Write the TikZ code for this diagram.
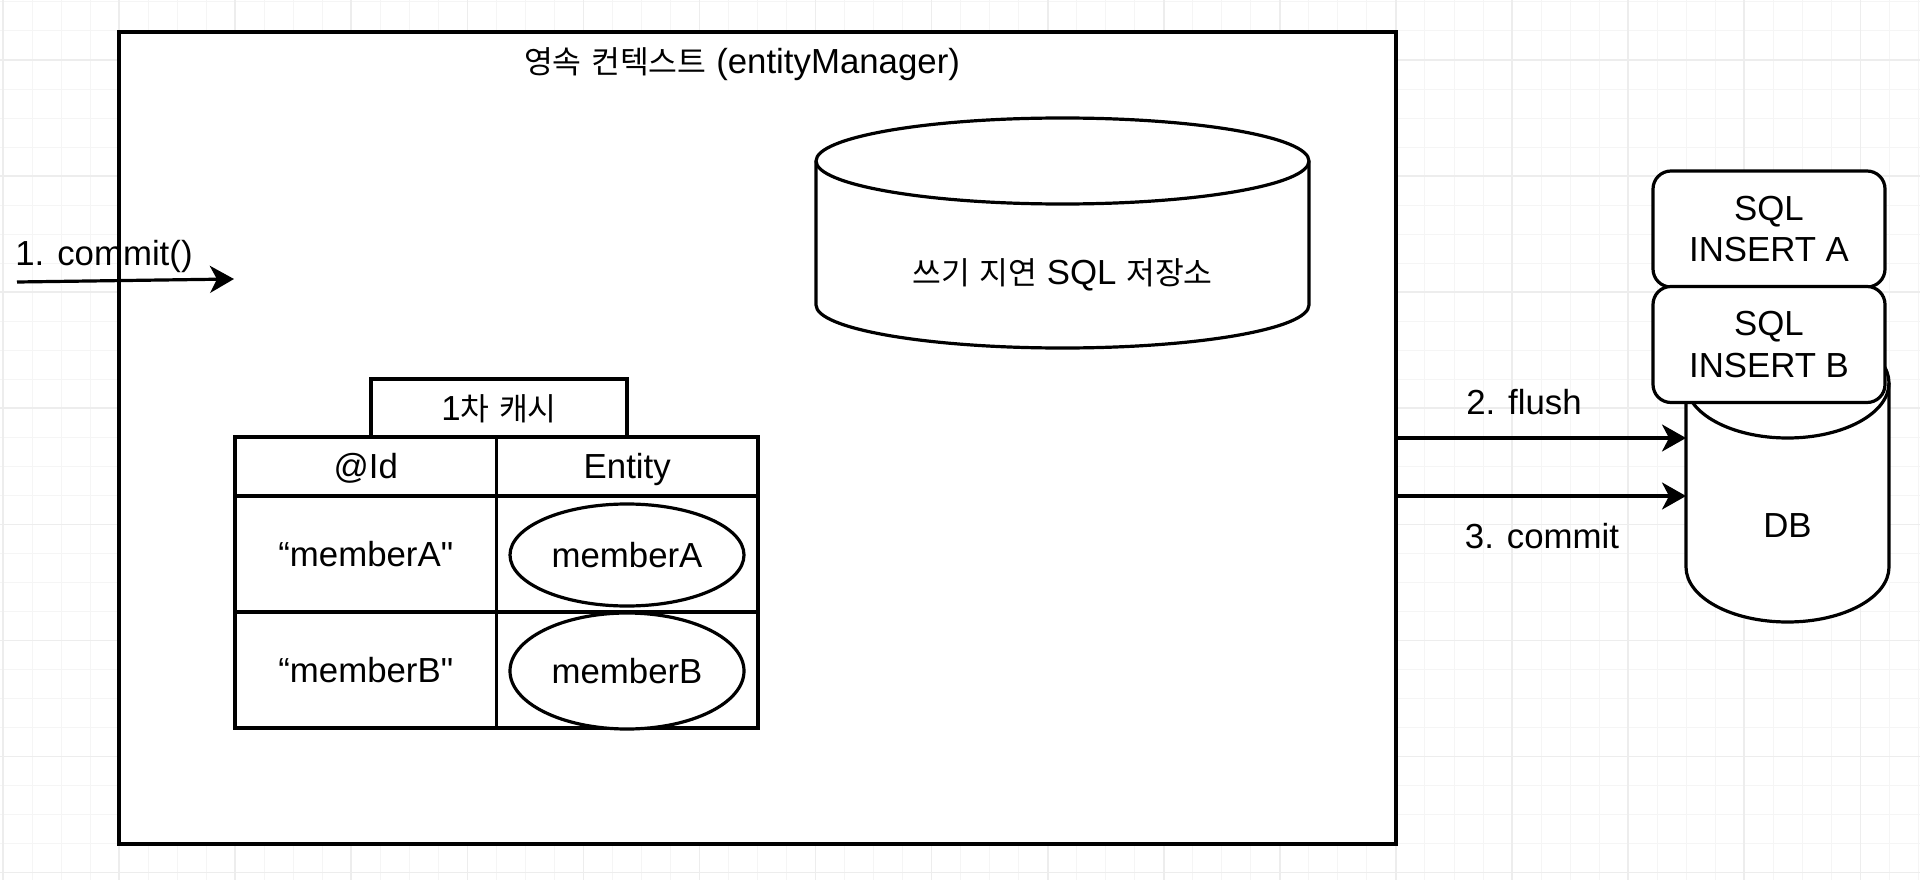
\documentclass[tikz,border=0pt]{standalone}
\usepackage{fontspec}
\newfontfamily\arial{Liberation Sans}
\newfontfamily\kor[Scale=0.9]{Noto Sans CJK KR}
\usetikzlibrary{arrows.meta, shapes.geometric}
\pgfdeclarelayer{gridlayer}
\pgfdeclarelayer{edgelayer}
\pgfdeclarelayer{nodelayer}
\pgfsetlayers{gridlayer,nodelayer,edgelayer,main}
\tikzstyle{minorgrid}=[draw=black!4, line width=1pt]
\tikzstyle{majorgrid}=[draw=black!7, line width=1.6pt]
\tikzstyle{tx}=[text height=24pt, text depth=0pt]
\tikzstyle{box}=[rectangle, draw=black, fill=white, line width=3.2pt, inner sep=0pt]
\tikzstyle{cell}=[box, tx, minimum width=261.5pt]
\tikzstyle{oval}=[ellipse, draw=black, fill=white, line width=3.2pt, inner sep=0pt, tx, minimum width=234pt]
\tikzstyle{sql}=[box, rounded corners=18pt, minimum width=232pt, minimum height=116pt, align=center]
\tikzstyle{can}=[draw=black, fill=white, line width=3.2pt]
\tikzstyle{txt}=[inner sep=0pt, tx]
\tikzstyle{flow}=[draw=black, line width=3.2pt, -{Stealth[length=24pt, width=27pt, inset=7pt]}]

\begin{document}
\begin{tikzpicture}[x=1pt, y=1pt, font=\arial\fontsize{34.8}{41.8}\selectfont]
				\useasboundingbox (0, 0) rectangle (1920, -880);
				\begin{pgfonlayer}{gridlayer}
					\draw [style=minorgrid, shift={(3, -1.96)}, step=29.02pt] (-60, 60) grid (1960, -920);
					\draw [style=majorgrid, shift={(3, -60)}, step=116.08pt] (-240, 240) grid (2040, -960);
				\end{pgfonlayer}
				\begin{pgfonlayer}{nodelayer}
					\node [style=box, minimum width=1277pt, minimum height=812pt] (0) at (757.5, -438) {};
					\node [style=txt] (1) at (742, -62) {{\kor 영속} {\kor 컨텍스트} (entityManager)};
					\draw [style=can] (816, -161) -- (816, -305) arc [start angle=180, end angle=360, x radius=246.5, y radius=43] -- (1309, -161) arc [start angle=0, end angle=180, x radius=246.5, y radius=43] -- cycle;
					\draw [style=can, fill=none] (816, -161) arc [start angle=180, end angle=360, x radius=246.5, y radius=43];
					\node [style=txt] (2) at (1062.5, -272) {{\kor 쓰기} {\kor 지연} SQL {\kor 저장소}};
					\node [style=box, tx, minimum width=256pt, minimum height=58pt] (3) at (499, -408) {1{\kor 차} {\kor 캐시}};
					\node [style=cell, minimum height=59pt] (4) at (365.75, -466.5) {@Id};
					\node [style=cell, minimum height=59pt] (5) at (627.25, -466.5) {Entity};
					\node [style=cell, minimum height=116pt] (6) at (365.75, -554) {“memberA"};
					\node [style=cell, minimum height=116pt] (7) at (627.25, -554) {};
					\node [style=cell, minimum height=116pt] (8) at (365.75, -670) {“memberB"};
					\node [style=cell, minimum height=116pt] (9) at (627.25, -670) {};
					\node [style=oval, minimum height=102pt] (10) at (627, -555) {memberA};
					\node [style=oval, minimum height=116pt] (11) at (627, -671) {memberB};
					\draw [style=can] (1686, -383) -- (1686, -567) arc [start angle=180, end angle=360, x radius=101.5, y radius=55] -- (1889, -383) arc [start angle=0, end angle=180, x radius=101.5, y radius=55] -- cycle;
					\draw [style=can, fill=none] (1686, -383) arc [start angle=180, end angle=360, x radius=101.5, y radius=55];
					\node [style=txt] (12) at (1787.5, -525) {DB};
					\node [style=sql] (13) at (1769, -229) {SQL\\INSERT A};
					\node [style=sql] (14) at (1769, -344.5) {SQL\\INSERT B};
				\end{pgfonlayer}
				\begin{pgfonlayer}{edgelayer}
					\coordinate (15) at (17, -282);
					\coordinate (16) at (234, -279);
					\coordinate (17) at (1686, -438);
					\coordinate (18) at (1686, -496);
					\draw [style=flow] (15) to (16);
					\draw [style=flow] (0.east) to (17);
					\draw [style=flow] (0.east |- 18) to (18);
					\node [style=txt] (19) at (104, -253) {1. commit()};
					\node [style=txt] (20) at (1524, -402) {2. flush};
					\node [style=txt] (21) at (1542, -536) {3. commit};
				\end{pgfonlayer}
			\end{tikzpicture}
\end{document}
